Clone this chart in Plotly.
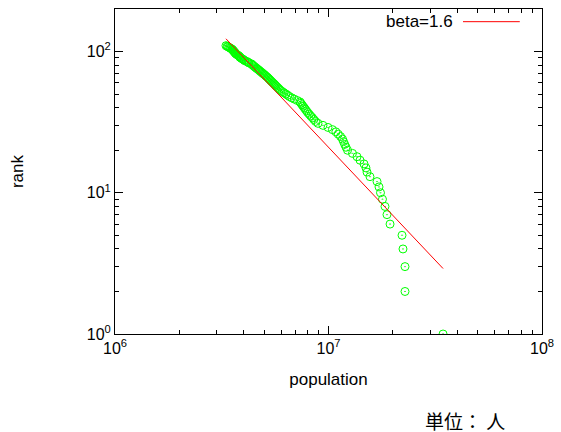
import math
import plotly.graph_objects as go

# Population of each city, largest first (rank = position in the list)
population = [
    34400000, 22820000, 22820000, 22330000, 22100000, 19420000, 18790000, 18390000, 17900000, 17520000,
    17240000, 16880000, 15640000, 15150000, 14980000, 14670000, 14050000, 13600000, 12950000, 12280000,
    12080000, 11910000, 11760000, 11630000, 11390000, 11100000, 10830000, 10430000, 9950000, 9420000,
    8930000, 8700000, 8540000, 8400000, 8250000, 8120000, 7990000, 7890000, 7790000, 7700000,
    7600000, 7510000, 7430000, 7350000, 7140000, 6920000, 6730000, 6560000, 6440000, 6320000,
    6190000, 6080000, 5970000, 5890000, 5820000, 5750000, 5680000, 5620000, 5560000, 5490000,
    5430000, 5370000, 5320000, 5260000, 5210000, 5160000, 5090000, 5040000, 4980000, 4920000,
    4870000, 4810000, 4760000, 4710000, 4660000, 4600000, 4560000, 4510000, 4460000, 4420000,
    4380000, 4340000, 4240000, 4200000, 4150000, 4060000, 4020000, 3980000, 3930000, 3890000,
    3850000, 3830000, 3810000, 3770000, 3730000, 3690000, 3670000, 3650000, 3630000, 3610000,
    3590000, 3570000, 3550000, 3530000, 3490000, 3460000, 3420000, 3380000, 3350000, 3310000,
]
rank = list(range(1, len(population) + 1))

# Power-law fit: rank ~ C * population^(-beta)
beta = 1.6
log_c = 12.522
fit_x = [min(population), max(population)]
fit_y = [10 ** (log_c - beta * math.log10(v)) for v in fit_x]

x_major = [1e6, 1e7, 1e8]
x_major_text = ["10<sup>6</sup>", "10<sup>7</sup>", "10<sup>8</sup>"]
y_major = [1, 10, 100]
y_major_text = ["10<sup>0</sup>", "10<sup>1</sup>", "10<sup>2</sup>"]
x_minor = [m * 10 ** e for e in (6, 7) for m in range(2, 10)]
y_minor = [m * 10 ** e for e in (0, 1) for m in range(2, 10)] + [200]

FONT = "Liberation Sans, Arial"

fig = go.Figure()
fig.add_trace(go.Scatter(
    x=population, y=rank, mode="markers",
    marker=dict(symbol="circle-open-dot", size=8, color="#00ff00",
                line=dict(width=1, color="#00ff00")),
    showlegend=False,
))
fig.add_trace(go.Scatter(
    x=fit_x, y=fit_y, mode="lines",
    line=dict(color="#ff0000", width=1),
    showlegend=False,
))

axis_common = dict(
    showline=True, linecolor="black", linewidth=1, mirror="allticks",
    ticks="inside", ticklen=8, tickcolor="black", tickwidth=1,
    showgrid=False, zeroline=False,
    tickfont=dict(family=FONT, size=16, color="black"),
)

fig.update_xaxes(
    type="log", range=[6, 8], tickmode="array",
    tickvals=x_major, ticktext=x_major_text,
    minor=dict(tickmode="array", tickvals=x_minor, ticks="inside", ticklen=4,
               tickcolor="black", tickwidth=1, showgrid=False),
    title=dict(text="population", font=dict(family=FONT, size=17, color="black"),
               standoff=16),
    **axis_common,
)
fig.update_yaxes(
    type="log", range=[0, math.log10(200)], tickmode="array",
    tickvals=y_major, ticktext=y_major_text,
    minor=dict(tickmode="array", tickvals=y_minor, ticks="inside", ticklen=4,
               tickcolor="black", tickwidth=1, showgrid=False),
    title=dict(text="rank", font=dict(family=FONT, size=17, color="black"),
               standoff=58),
    **axis_common,
)

# Legend entry drawn gnuplot-style: label followed by a line sample
fig.add_annotation(
    xref="paper", yref="paper", x=0.797, y=0.961, xanchor="right", yanchor="middle",
    text="beta=1.6", showarrow=False,
    font=dict(family=FONT, size=17, color="black"),
)
fig.add_shape(type="line", xref="paper", yref="paper",
              x0=0.815, x1=0.948, y0=0.961, y1=0.961,
              line=dict(color="#ff0000", width=1))

fig.add_annotation(
    xref="paper", yref="paper", x=0.917, y=-0.265, xanchor="right", yanchor="middle",
    text="単位： 人", showarrow=False,
    font=dict(family="Noto Sans CJK JP", size=19, color="black"),
)

fig.update_layout(
    width=561, height=432,
    margin=dict(l=115, r=19, t=9, b=98, autoexpand=False),
    plot_bgcolor="white", paper_bgcolor="white",
)

fig.write_html("out.html")
